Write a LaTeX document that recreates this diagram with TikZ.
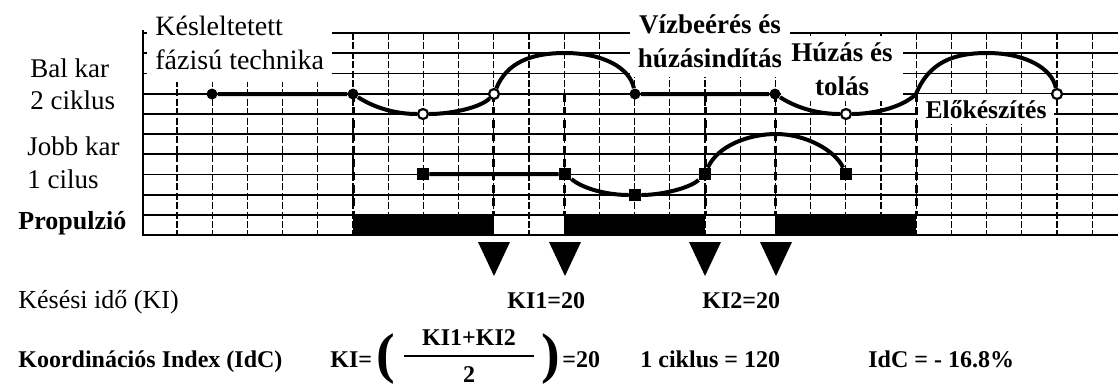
\documentclass[tikz,border=0pt]{standalone}
\usepackage{fontspec}
\setmainfont{Liberation Serif}
\begin{document}
\begin{tikzpicture}[x=0.5pt,y=-0.5pt]
  \tikzstyle{gridline}=[line width=0.9pt]
  \tikzstyle{gridvert}=[line width=0.55pt,dash pattern=on 3.5pt off 1.2pt]
  \tikzstyle{phaseline}=[line width=1.5pt,dash pattern=on 4pt off 2.5pt]
  \tikzstyle{arm}=[line width=2pt]
  \tikzstyle{full dot}=[circle,fill=black,inner sep=0pt,minimum size=5.5pt]
  \tikzstyle{open dot}=[circle,draw=black,fill=white,line width=1.1pt,
                        inner sep=0pt,minimum size=5pt]
  \tikzstyle{sq dot}=[rectangle,fill=black,inner sep=0pt,minimum size=6pt]
  \tikzstyle{rowtext}=[inner sep=0pt,font=\fontsize{13.5}{16}\selectfont]
  \tikzstyle{phasetext}=[fill=white,align=center,inner xsep=4pt,inner ysep=5pt,
                         font=\bfseries\fontsize{13.5}{17}\selectfont]
  \tikzstyle{formula}=[inner sep=0pt,font=\bfseries\fontsize{12}{14}\selectfont]

  \useasboundingbox (0,0) rectangle (1118,387);

  % grid
  \foreach \k in {0,...,10}
    \draw[gridline] (143,{33+20.2*\k}) -- (1118,{33+20.2*\k});
  \foreach \k in {0,...,26}
    \draw[gridvert] ({177+35.2*\k},33) -- ({177+35.2*\k},235);
  \foreach \k in {5,9,11,15,17,21}
    \draw[phaseline] ({177+35.2*\k},94) -- ({177+35.2*\k},215);
  \draw[line width=1.2pt] (143,30) -- (143,235) -- (1118,235);

  % propulzio
  \foreach \a/\b in {353/494,564/705,775/916}
    \fill (\a,215) rectangle (\b,235);
  \foreach \tx in {494,565,705,776}
    \fill ({\tx-16},242) -- ({\tx+16},242) -- (\tx,276) -- cycle;

  % phase labels
  \node[phasetext,align=left,font=\fontsize{14}{17}\selectfont,
        anchor=north west,inner ysep=6pt] (kesl) at (147,4) {Késleltetett\\fázisú technika};
  \node[phasetext,anchor=north] (vizbe) at (710,4) {Vízbeérés és\\húzásindítás};
  \node[phasetext,anchor=north,inner ysep=3pt,inner xsep=5pt] (huzas) at (842,36) {Húzás és\\tolás};
  \node[phasetext,anchor=base,inner ysep=3pt,
        font=\bfseries\fontsize{12.8}{15}\selectfont] (eloke) at (986,118) {Előkészítés};

  % bal kar
  \node[full dot] (b1) at (212,94) {};
  \node[full dot] (b2) at (353,94) {};
  \node[open dot] (b3) at (423,114) {};
  \node[open dot] (b4) at (494,94) {};
  \coordinate (bp1) at (565,53);
  \node[full dot] (b5) at (635,94) {};
  \node[full dot] (b6) at (775,94) {};
  \node[open dot] (b7) at (846,114) {};
  \coordinate (b8) at (916,94);
  \coordinate (bp2) at (987,53);
  \node[open dot] (b9) at (1057,94) {};
  \draw[arm] (b1) -- (b2)
    .. controls (378,110) and (400,114) .. (b3)
    .. controls (450,114) and (480,108) .. (b4)
    .. controls (507,62) and (532,53) .. (bp1)
    .. controls (603,53) and (630,68) .. (b5)
    -- (b6)
    .. controls (800,110) and (822,114) .. (b7)
    .. controls (872,114) and (902,108) .. (b8)
    .. controls (929,62) and (954,53) .. (bp2)
    .. controls (1025,53) and (1052,68) .. (b9);

  % jobb kar
  \node[sq dot] (j1) at (423,174) {};
  \node[sq dot] (j2) at (565,174) {};
  \node[sq dot] (j3) at (635,195) {};
  \node[sq dot] (j4) at (705,174) {};
  \coordinate (jp) at (776,134);
  \node[sq dot] (j5) at (846,174) {};
  \draw[arm] (j1) -- (j2)
    .. controls (585,190) and (610,195) .. (j3)
    .. controls (662,195) and (690,188) .. (j4)
    .. controls (718,145) and (750,134) .. (jp)
    .. controls (805,134) and (835,150) .. (j5);

  % row labels
  \node[rowtext,anchor=base west] (balkar) at (30,77) {Bal kar};
  \node[rowtext,anchor=base west] (balcik) at (30,109) {2 ciklus};
  \node[rowtext,anchor=base west] (jobbkar) at (27,155) {Jobb kar};
  \node[rowtext,anchor=base west] (jobbcik) at (27,188) {1 cilus};
  \node[rowtext,anchor=base west,font=\bfseries\fontsize{13}{16}\selectfont] (prop) at (18,229) {Propulzió};
  \node[rowtext,anchor=base west,font=\fontsize{13}{16}\selectfont] (kesesi) at (18,308) {Késési idő (KI)};
  \node[formula,anchor=base west] (ki1) at (507,308) {KI1=20};
  \node[formula,anchor=base west] (ki2) at (702,308) {KI2=20};

  % formula
  \node[formula,anchor=base west] (koord) at (18,367) {Koordinációs Index (IdC)};
  \node[formula,anchor=base west] (kieq) at (330,367) {KI=};
  \node[formula,font=\bfseries\fontsize{28}{30}\selectfont] (lpar) at (386,359) {(};
  \node[formula] (frac) at (469,356) {$\displaystyle{\hbox{\hspace{9pt}KI1+KI2\hspace{9pt}}\above 1pt\hbox{\rule{0pt}{10pt}2}}$};
  \node[formula,font=\bfseries\fontsize{28}{30}\selectfont] (rpar) at (551,359) {)};
  \node[formula,anchor=base west] (res) at (562,367) {=20};
  \node[formula,anchor=base west] (ciklus) at (640,367) {1 ciklus = 120};
  \node[formula,anchor=base west] (idc) at (868,367) {IdC = - 16.8\%};
\end{tikzpicture}
\end{document}
